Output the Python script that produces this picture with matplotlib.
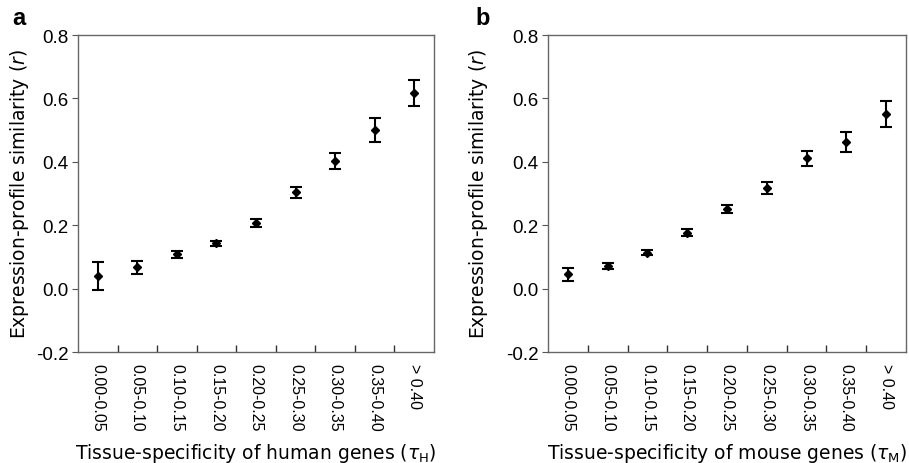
import matplotlib
matplotlib.use("Agg")
import matplotlib.pyplot as plt
import numpy as np

plt.rcParams['font.family'] = ['Liberation Sans', 'DejaVu Sans']
plt.rcParams['mathtext.fontset'] = 'dejavusans'

# bins of tissue specificity
categories = ["0.00-0.05", "0.05-0.10", "0.10-0.15", "0.15-0.20", "0.20-0.25",
              "0.25-0.30", "0.30-0.35", "0.35-0.40", "> 0.40"]

# human genes (panel a)
human_r = [0.040, 0.067, 0.108, 0.143, 0.207, 0.304, 0.403, 0.501, 0.618]
human_err = [0.045, 0.020, 0.010, 0.008, 0.012, 0.018, 0.025, 0.037, 0.041]

# mouse genes (panel b)
mouse_r = [0.045, 0.071, 0.113, 0.177, 0.251, 0.318, 0.411, 0.462, 0.551]
mouse_err = [0.021, 0.010, 0.008, 0.010, 0.014, 0.018, 0.023, 0.031, 0.041]

fig = plt.figure(figsize=(9.09, 4.64), dpi=100)
ax_a = fig.add_axes([0.0858, 0.2392, 0.3916, 0.6832])
ax_b = fig.add_axes([0.6029, 0.2392, 0.3938, 0.6832])

panels = [(ax_a, human_r, human_err, "a", -0.185, -0.132,
           r"Tissue-specificity of human genes ($\tau_{\rm H}$)"),
          (ax_b, mouse_r, mouse_err, "b", -0.204, -0.162,
           r"Tissue-specificity of mouse genes ($\tau_{\rm M}$)")]

label_font = ['DejaVu Sans']

x = np.arange(len(categories))
for ax, vals, errs, letter, lx, ylx, xlab in panels:
    ax.errorbar(x, vals, yerr=errs, fmt='D', color='black', markersize=3.8,
                elinewidth=1.5, capsize=4.5, capthick=1.5)
    ax.set_xlim(-0.5, len(categories) - 0.5)
    ax.set_ylim(-0.2, 0.8)
    ax.set_yticks([-0.2, 0.0, 0.2, 0.4, 0.6, 0.8])
    ax.set_yticklabels(["-0.2", "0.0", "0.2", "0.4", "0.6", "0.8"],
                       family='Liberation Sans')
    ax.tick_params(axis='y', direction='out', length=4, labelsize=13.5,
                   color='#555555', pad=3)
    # category labels at centres, ticks at bin boundaries pointing inward
    ax.set_xticks(x)
    ax.set_xticklabels(categories, rotation=270, fontsize=11.5,
                       family='Liberation Sans')
    ax.tick_params(axis='x', which='major', length=0, pad=8)
    ax.set_xticks(np.arange(0.5, len(categories) - 1, 1.0), minor=True)
    ax.tick_params(axis='x', which='minor', direction='in', length=5,
                   color='#333333', width=1)
    for sp in ax.spines.values():
        sp.set_color('#666666')
        sp.set_linewidth(1.0)
    ax.set_ylabel(r"Expression-profile similarity ($\it{r}$)", fontsize=13.5,
                  family=label_font)
    ax.yaxis.set_label_coords(ylx, 0.5)
    ax.set_xlabel(xlab, fontsize=13.5, family=label_font)
    ax.xaxis.set_label_coords(0.5, -0.28)
    ax.text(lx, 1.019, letter, transform=ax.transAxes, fontsize=17,
            fontweight='bold', va='bottom', ha='left',
            family='Liberation Sans')

fig.savefig("out.png", dpi=100)
